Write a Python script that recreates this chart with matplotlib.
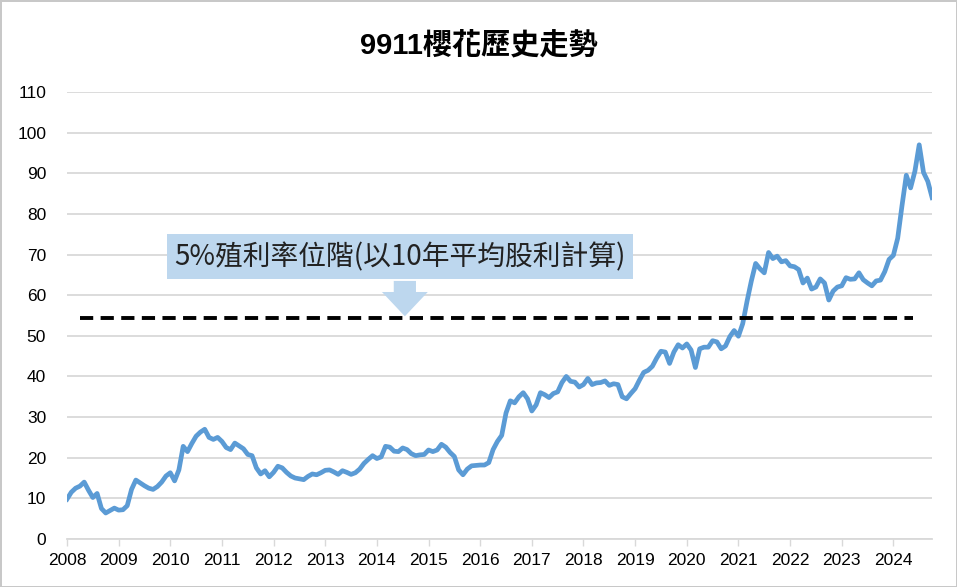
import numpy as np
import matplotlib
matplotlib.use("Agg")
import matplotlib.pyplot as plt

# monthly closing prices, Jan 2008 .. Oct 2024
price_2008 = [9.8, 11.5, 12.5, 13, 14, 12, 10.2, 11.2, 7.5, 6.4, 7, 7.6]
price_2009 = [7.1, 7.2, 8.2, 12.2, 14.5, 13.8, 13.1, 12.5, 12.2, 12.9, 14, 15.5]
price_2010 = [16.3, 14.3, 17, 22.8, 21.5, 23.5, 25.3, 26.3, 27, 25, 24.5, 25]
price_2011 = [24, 22.5, 22, 23.6, 22.9, 22.2, 20.8, 20.5, 17.5, 16, 16.8, 15.3]
price_2012 = [16.4, 17.9, 17.5, 16.4, 15.5, 15, 14.8, 14.6, 15.4, 16, 15.8, 16.3]
price_2013 = [16.9, 17, 16.5, 15.9, 16.8, 16.4, 15.9, 16.3, 17.2, 18.6, 19.6, 20.5]
price_2014 = [19.8, 20.2, 22.8, 22.6, 21.6, 21.5, 22.4, 22, 21, 20.5, 20.7, 20.8]
price_2015 = [21.9, 21.5, 21.9, 23.3, 22.6, 21.3, 20.3, 17, 15.8, 17.2, 18, 18.1]
price_2016 = [18.2, 18.2, 18.8, 22, 24, 25.5, 31, 34, 33.5, 35, 36, 34.5]
price_2017 = [31.5, 33, 36, 35.5, 34.8, 35.8, 36.2, 38.5, 40, 38.8, 38.6, 37.4]
price_2018 = [38, 39.5, 38, 38.4, 38.5, 38.9, 37.8, 38.2, 38, 35, 34.5, 35.8]
price_2019 = [37, 39.1, 41, 41.5, 42.5, 44.5, 46.2, 46, 43.2, 46, 47.8, 47]
price_2020 = [48, 46.5, 42.2, 46.8, 47.2, 47.2, 48.8, 48.5, 46.8, 47.5, 49.8, 51.3]
price_2021 = [49.9, 53, 58.5, 63.5, 67.8, 66.5, 65.5, 70.5, 69, 69.6, 68.2, 68.5]
price_2022 = [67.2, 67, 66.3, 63, 64.2, 61.5, 62, 64, 63, 58.8, 61, 62]
price_2023 = [62.3, 64.3, 63.9, 64, 65.5, 63.8, 63, 62.3, 63.5, 63.7, 65.8, 68.8]
price_2024 = [69.8, 74, 82, 89.5, 86.4, 90.5, 97, 90.2, 88, 84]

prices = (price_2008 + price_2009 + price_2010 + price_2011 + price_2012 + price_2013
          + price_2014 + price_2015 + price_2016 + price_2017 + price_2018 + price_2019
          + price_2020 + price_2021 + price_2022 + price_2023 + price_2024)
years = list(range(2008, 2025))
yield_level = 54.4   # 5% yield price
yticks = list(range(0, 111, 10))

title = "9911櫻花歷史走勢"
note = "5%殖利率位階(以10年平均股利計算)"

plt.rcParams['font.family'] = ['Liberation Sans', 'Noto Sans CJK TC', 'DejaVu Sans']

fig = plt.figure(figsize=(9.57, 5.87), dpi=100)
fig.patch.set_edgecolor('#C8C8C8')
fig.patch.set_linewidth(2)
ax = fig.add_axes([0.070, 0.0818, 0.904, 0.7615])

x = np.arange(len(prices))
ax.plot(x, prices, color='#5B9BD5', linewidth=3.4, solid_joinstyle='round', zorder=3)

# 5% yield line
ax.plot([3, 196.5], [yield_level, yield_level], color='black', linewidth=2.8,
        linestyle=(0, (3.4, 1.9)), zorder=4)

ax.set_xlim(0, len(prices) - 1)
ax.set_ylim(0, 110)
ax.set_yticks(yticks)
ax.set_xticks([12 * i for i in range(len(years))])
ax.set_xticklabels([str(y) for y in years])
ax.tick_params(axis='y', length=0, labelsize=12.5, pad=15, colors='#000000')
ax.tick_params(axis='x', length=5, width=1, color='#D9D9D9', labelsize=12.5, pad=5)
ax.grid(axis='y', color='#D9D9D9', linewidth=1.3)
ax.set_axisbelow(True)
for s in ['top', 'right', 'left']:
    ax.spines[s].set_visible(False)
ax.spines['bottom'].set_color('#D9D9D9')
ax.spines['bottom'].set_linewidth(1.3)

fig.text(0.5, 0.923, title, ha='center', va='center', fontsize=21, fontweight='bold',
         family=['Liberation Sans', 'Noto Sans CJK TC'])

# callout box and arrow
ax.annotate('', xy=(78.5, yield_level + 0.4), xytext=(78.5, 63.5),
            arrowprops=dict(arrowstyle='simple,head_width=3.3,head_length=1.75,tail_width=1.6',
                            mutation_scale=10, color='#BDD7EE', lw=0,
                            shrinkA=0, shrinkB=0), zorder=2)
ax.text(77.4, 69.4, note, ha='center', va='center', fontsize=20, color='#222222',
        family=['Noto Sans CJK TC'],
        bbox=dict(boxstyle='square,pad=0.27', facecolor='#BDD7EE', edgecolor='none'),
        zorder=5)

fig.savefig('out.png', dpi=100, edgecolor=fig.get_edgecolor())
